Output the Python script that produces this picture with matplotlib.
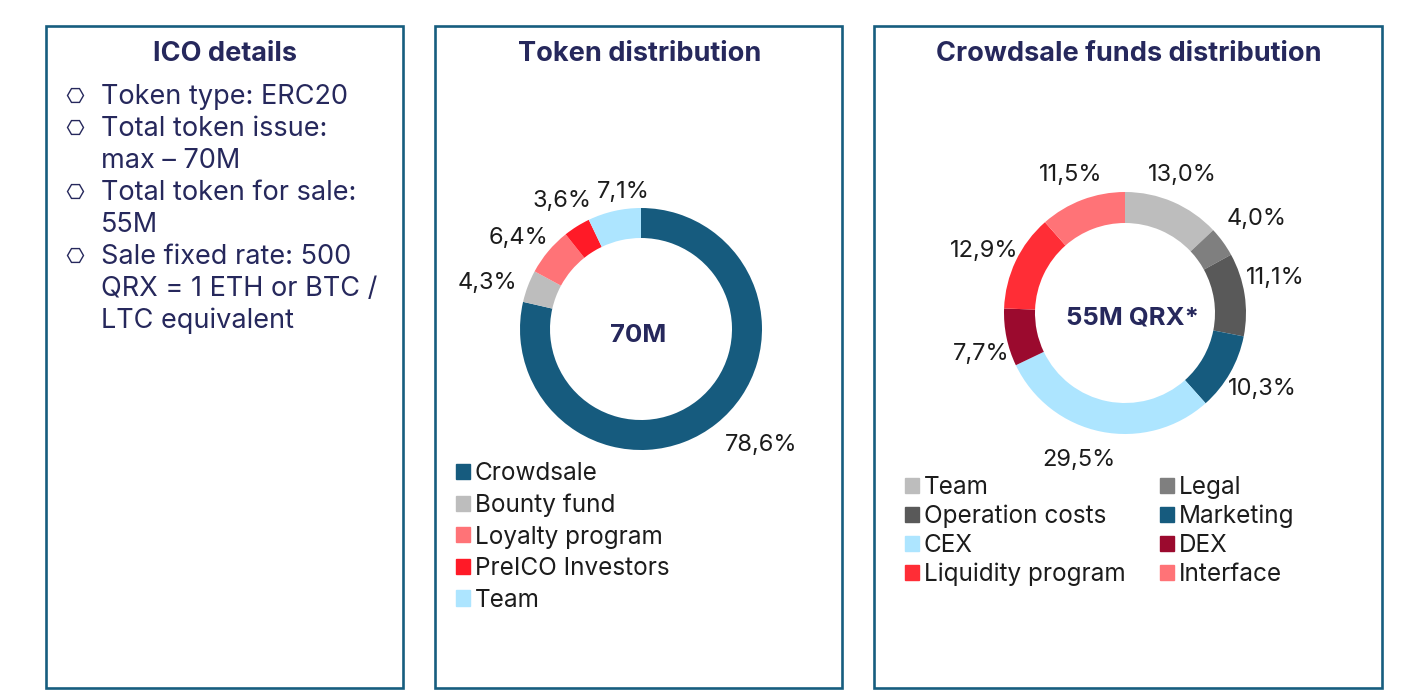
import matplotlib
matplotlib.use("Agg")
import matplotlib.pyplot as plt
from matplotlib.patches import Rectangle, Patch

W, H = 1408, 698
NAVY = "#26285c"
BORDER = "#175d7f"
INK = "#1c1c1c"

# ---------------------------------------------------------------------------
# DATA
# ---------------------------------------------------------------------------
details_lines = ["Token type: ERC20", "Total token issue:", "max – 70M", "Total token for sale:",
                 "55M", "Sale fixed rate: 500", "QRX = 1 ETH or BTC /", "LTC equivalent"]
details_bullets = [True, True, False, True, False, True, False, False]

token_names = ["Crowdsale", "Bounty fund", "Loyalty program", "PreICO Investors", "Team"]
token_shares = [78.6, 4.3, 6.4, 3.6, 7.1]
token_labels = ["78,6%", "4,3%", "6,4%", "3,6%", "7,1%"]
token_colors = ["#165b7e", "#bdbdbd", "#ff7377", "#ff1a27", "#ade5ff"]

funds_names = ["Team", "Legal", "Operation costs", "Marketing", "CEX", "DEX",
               "Liquidity program", "Interface"]
funds_shares = [13.0, 4.0, 11.1, 10.3, 29.5, 7.7, 12.9, 11.5]
funds_labels = ["13,0%", "4,0%", "11,1%", "10,3%", "29,5%", "7,7%", "12,9%", "11,5%"]
funds_colors = ["#bdbdbd", "#7f7f7f", "#595959", "#165b7e", "#ade5ff", "#9b0a2e", "#ff2d36", "#ff7377"]

# label centres in picture pixels
token_label_pos = [(761, 445), (487, 283), (518, 238), (562, 201), (623, 192)]
funds_label_pos = [(1182, 175), (1257, 219), (1275, 278), (1262, 389),
                   (1079, 460), (981, 354), (984, 251), (1071, 175)]

plt.rcParams["font.family"] = ["Inter", "DejaVu Sans"]

fig = plt.figure(figsize=(W / 100, H / 100), dpi=100, facecolor="white")

# overlay in pixel coordinates for boxes and text
over = fig.add_axes([0, 0, 1, 1], zorder=3)
over.set_xlim(0, W)
over.set_ylim(H, 0)
over.axis("off")
over.patch.set_alpha(0)


def draw_box(x0, x1, title, title_x):
    over.add_patch(Rectangle((x0, 26), x1 - x0, 662, fill=False, ec=BORDER, lw=1.9))
    over.text(title_x, 54, title, ha="center", va="center", fontsize=19.5,
              fontweight="bold", color=NAVY)


def draw_donut(cx, cy, radius, ring, shares, colors):
    ax = fig.add_axes([(cx - radius) / W, 1 - (cy + radius) / H, 2 * radius / W, 2 * radius / H])
    ax.pie(shares, colors=colors, startangle=90, counterclock=False, radius=1,
           wedgeprops={"width": ring / radius})
    ax.set_xlim(-1, 1)
    ax.set_ylim(-1, 1)
    return ax


draw_box(45.5, 403, "ICO details", 225)
draw_box(435, 842, "Token distribution", 639.5)
draw_box(874, 1382, "Crowdsale funds distribution", 1129)

# left panel
y = 97
for line, bullet in zip(details_lines, details_bullets):
    over.text(101, y, line, ha="left", va="center", fontsize=19.5, color=NAVY)
    if bullet:
        over.plot([75], [y - 2], marker="H", ms=11.5, mfc="white", mec=NAVY, mew=1.0, ls="none")
    y += 32

# donuts
draw_donut(641, 329, 121, 30, token_shares, token_colors)
draw_donut(1125, 313, 121, 31, funds_shares, funds_colors)

for (px, py), text in zip(token_label_pos, token_labels):
    over.text(px, py, text, ha="center", va="center", fontsize=17, color=INK)
for (px, py), text in zip(funds_label_pos, funds_labels):
    over.text(px, py, text, ha="center", va="center", fontsize=17, color=INK)

over.text(638, 336, "70M", ha="center", va="center", fontsize=18.5, fontweight="bold", color=NAVY)
over.text(1132, 318, "55M QRX*", ha="center", va="center", fontsize=18.5, fontweight="bold", color=NAVY)

# legends
leg_kw = dict(frameon=False, labelcolor=INK, handlelength=0.58, handleheight=0.58,
              borderpad=0, borderaxespad=0, loc="upper left", prop={"size": 17.5})
token_handles = [Patch(color=c) for c in token_colors]
fig.legend(token_handles, token_names, bbox_to_anchor=(456 / W, 1 - 462 / H),
           labelspacing=0.35, handletextpad=0.2, **leg_kw)

# legend fills columns first, the picture reads row by row
funds_handles = [Patch(color=c) for c in funds_colors]
funds_handles = funds_handles[::2] + funds_handles[1::2]
funds_order = funds_names[::2] + funds_names[1::2]
fig.legend(funds_handles, funds_order, bbox_to_anchor=(905 / W, 1 - 476 / H), ncols=2,
           labelspacing=0.24, handletextpad=0.2, columnspacing=1.4, **leg_kw)

fig.savefig("out.png", dpi=100, facecolor="white")
